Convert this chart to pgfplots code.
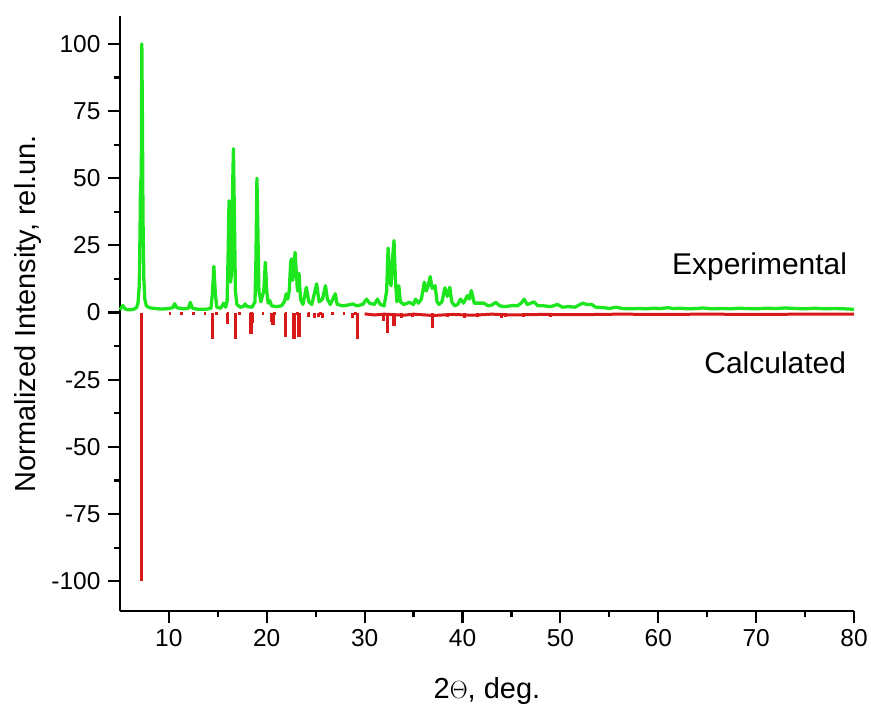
\documentclass[border=0pt]{standalone}
\usepackage{pgfplots}
\pgfplotsset{compat=1.18}
\usepackage{fontspec}
\setmainfont{Liberation Sans}
\definecolor{expgreen}{RGB}{30,230,30}
\definecolor{calcred}{RGB}{215,25,25}

\begin{document}
\begin{tikzpicture}
\begin{axis}[
    scale only axis,
    width=735pt,
    height=596pt,
    xmin=5, xmax=80,
    ymin=-111.2, ymax=110.4,
    axis lines*=left,
    axis line style={line width=2.4pt},
    tick align=outside,
    xtick={10,20,...,80},
    ytick={-100,-75,...,100},
    minor x tick num=1,
    minor y tick num=1,
    major tick length=12pt,
    minor tick length=6pt,
    every tick/.style={black, line width=2.2pt},
    tick label style={font=\fontsize{24.5}{24.5}\selectfont},
    xticklabel style={yshift=-3pt},
    yticklabel style={xshift=-4pt},
    /pgf/number format/assume math mode=true,
    xlabel={2$\Theta$, deg.},
    ylabel={Normalized Intensity, rel.un.},
    label style={font=\fontsize{29}{29}\selectfont},
    xlabel style={at={(axis description cs:0.5,-0.134)}, anchor=center},
    ylabel style={at={(axis description cs:-0.125,0.5)}, anchor=center},
    clip=false,
]
% calculated pattern, drawn downwards
\addplot[calcred, line width=2.6pt, dash pattern=on 2.6pt off 9pt] coordinates {(10,-0.4) (30,-0.4)};
\addplot[calcred, line width=3pt, line join=round] coordinates {
    (30,-0.5) (31,-0.9) (32,-0.6) (34,-1.0) (35,-0.6) (37,-1.1) (39,-0.7)
    (41,-1.0) (43,-0.6) (45,-0.9) (48,-0.7) (52,-0.8) (56,-0.6) (60,-0.7)
    (65,-0.6) (70,-0.7) (75,-0.6) (80,-0.6)
};
\addplot[calcred, ycomb, line width=3.2pt] coordinates {
    (7.2,-100) (14.5,-10) (16.0,-4.3) (16.8,-10) (18.4,-8) (18.5,-4)
    (20.5,-3.5) (20.65,-4.5) (21.9,-9) (22.7,-10) (22.85,-10) (23.3,-9)
    (24.3,-1.5) (24.9,-2) (25.3,-1.5) (25.7,-2) (28.8,-2) (29.3,-10)
    (31.9,-3) (32.3,-7.5) (33.0,-5) (33.8,-2) (34.9,-1.5) (36.9,-5.7)
    (38.5,-1.5) (40.2,-2) (41.5,-1.5) (44.0,-2) (44.4,-1.5) (46.2,-1.5)
    (47.8,-1.2) (49.0,-1.5)
};
% experimental pattern
\addplot[expgreen, line width=3.3pt, line join=round] coordinates {
    (5.0,1.0) (5.15,1.8) (5.3,2.6) (5.45,1.8) (5.6,1.2) (6.0,1.0) (6.4,1.2)
    (6.7,1.8) (6.85,3.5) (6.98,10) (7.06,30) (7.1,46) (7.15,49) (7.19,52) (7.24,100)
    (7.3,72) (7.36,35) (7.45,12) (7.55,5) (7.7,2.5) (8.0,1.8) (8.6,1.5) (9.2,1.3)
    (9.8,1.4) (10.4,1.8) (10.6,3.3) (10.8,1.8) (11.5,1.4) (12.0,1.6)
    (12.2,3.8) (12.4,1.6) (13.0,1.2) (13.8,1.2) (14.3,1.6) (14.45,7)
    (14.6,17.2) (14.75,7) (14.9,2) (15.3,1.6) (15.6,3.5) (15.8,2.0)
    (15.95,4) (16.05,20) (16.15,41.6) (16.22,30) (16.3,11.3) (16.4,14)
    (16.48,40) (16.6,61) (16.7,35) (16.8,8) (16.95,3) (17.3,2) (17.6,2.2)
    (17.8,3.2) (18.0,2.2) (18.5,2.0) (18.8,4) (18.9,20) (19.0,50) (19.1,30)
    (19.2,8) (19.4,4) (19.7,8) (19.86,18.7) (20.0,8) (20.15,3.5) (20.3,4.5)
    (20.5,2.5) (21.0,2.2) (21.5,2.5) (21.8,4) (22.0,7) (22.15,5) (22.3,8)
    (22.45,19) (22.55,20) (22.65,12) (22.8,18) (22.9,22.4) (23.0,16)
    (23.15,8) (23.3,14.6) (23.45,5) (23.7,3) (24.05,9.4) (24.3,4) (24.6,3)
    (24.8,6) (25.1,10.7) (25.35,4) (25.7,5) (26.0,10) (26.2,5) (26.5,3)
    (27.0,7) (27.2,3) (27.8,2.5) (28.3,2.8) (28.8,3.2) (29.2,2.5) (29.8,3)
    (30.2,5) (30.5,3.5) (31.0,3) (31.3,5) (31.6,3) (32.0,2.5) (32.25,8)
    (32.4,24) (32.55,12) (32.7,10) (32.85,20) (33.0,26.8) (33.15,12)
    (33.3,4) (33.5,10) (33.65,4) (34.0,3) (34.6,3.8) (35.0,3) (35.2,5)
    (35.5,3.5) (35.8,5) (36.1,11.3) (36.3,8) (36.5,10) (36.7,13.4) (36.9,9)
    (37.2,10) (37.4,4) (37.6,3) (37.9,4) (38.2,9.2) (38.45,6) (38.7,9.4)
    (38.9,4) (39.2,2.5) (39.5,3) (39.8,5) (40.1,3.5) (40.5,6.3) (40.7,5)
    (40.9,8.2) (41.2,3.5) (41.7,3.5) (42.2,3.5) (42.6,2.5) (43.0,2.8)
    (43.4,3.8) (43.8,2.5) (44.3,2.2) (45.1,2.6) (45.6,2.5) (46.0,3.5)
    (46.3,5) (46.6,3) (47.0,3.5) (47.3,4) (47.7,2.5) (48.3,2.5) (49.0,2.2)
    (49.7,3) (50.2,2) (50.8,2.2) (51.5,2) (52.0,3) (52.3,3.5) (52.7,3)
    (53.2,3) (53.6,2) (54.5,1.8) (55.0,1.5) (55.7,2) (56.3,1.5) (57.0,1.4)
    (58.0,1.5) (58.8,1.4) (59.5,1.6) (60.2,1.5) (61.0,1.8) (61.5,1.5)
    (62.2,1.6) (63.0,1.4) (64.0,1.5) (64.5,1.7) (65.5,1.4) (66.5,1.5)
    (67.4,1.4) (68.3,1.6) (69.0,1.5) (70.0,1.4) (71.0,1.6) (72.0,1.5)
    (73.0,1.7) (74.0,1.5) (75.0,1.4) (76.0,1.6) (77.0,1.4) (78.0,1.5)
    (79.0,1.4) (80.0,1.2)
};
\node[anchor=east, inner sep=0pt, font=\fontsize{30}{30}\selectfont] at (axis cs:79.3,17) {Experimental};
\node[anchor=east, inner sep=0pt, font=\fontsize{30}{30}\selectfont] at (axis cs:79.2,-18.6) {Calculated};
\path (axis description cs:-0.1633,-0.1594) rectangle (axis description cs:1.0218,1.0268);
\end{axis}
\end{tikzpicture}
\end{document}
